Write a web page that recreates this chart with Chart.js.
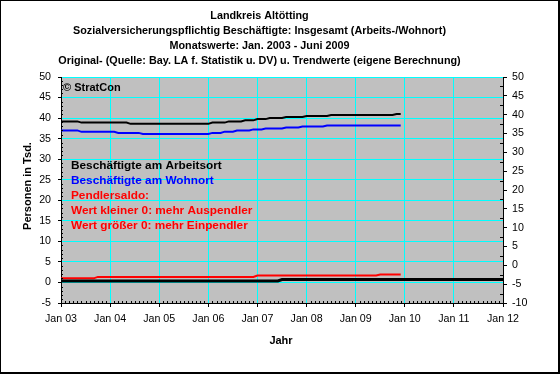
<!DOCTYPE html>
<html>
<head>
<meta charset="utf-8">
<script src="https://cdn.jsdelivr.net/npm/chart.js@4.4.0/dist/chart.umd.min.js"></script>
<style>
  html, body { margin: 0; padding: 0; background: #fff; }
  canvas { display: block; }
</style>
</head>
<body>
<canvas id="chart" width="560" height="374"></canvas>
<script>
// monthly values in Tsd., Jan 2003 .. Dec 2009 (one row per year)
const arbeitsort = [
  39.2, 39.2, 39.2, 39.2, 39.2, 38.9, 38.9, 38.9, 38.9, 38.9, 38.9, 38.9,
  38.9, 38.9, 38.9, 38.9, 38.9, 38.6, 38.6, 38.6, 38.6, 38.6, 38.6, 38.6,
  38.6, 38.6, 38.6, 38.6, 38.6, 38.6, 38.6, 38.6, 38.6, 38.6, 38.6, 38.6,
  38.6, 38.9, 38.9, 38.9, 38.9, 39.2, 39.2, 39.2, 39.2, 39.45, 39.45, 39.45,
  39.75, 39.75, 39.75, 40.0, 40.0, 40.0, 40.0, 40.25, 40.25, 40.25, 40.25, 40.25,
  40.5, 40.5, 40.5, 40.5, 40.5, 40.5, 40.75, 40.75, 40.75, 40.75, 40.75, 40.75,
  40.75, 40.75, 40.75, 40.75, 40.75, 40.75, 40.75, 40.75, 40.75, 40.75, 41.0, 41.0
];
const wohnort = [
  37.0, 37.0, 37.0, 37.0, 37.0, 36.65, 36.65, 36.65, 36.65, 36.65, 36.65, 36.65,
  36.65, 36.65, 36.4, 36.4, 36.4, 36.4, 36.4, 36.4, 36.15, 36.15, 36.15, 36.15,
  36.15, 36.15, 36.15, 36.15, 36.15, 36.15, 36.15, 36.15, 36.15, 36.15, 36.15, 36.15,
  36.15, 36.4, 36.4, 36.4, 36.7, 36.7, 36.7, 37.0, 37.0, 37.0, 37.0, 37.25,
  37.25, 37.25, 37.45, 37.45, 37.45, 37.45, 37.45, 37.7, 37.7, 37.7, 37.7, 37.95,
  37.95, 37.95, 37.95, 37.95, 37.95, 38.2, 38.2, 38.2, 38.2, 38.2, 38.2, 38.2,
  38.2, 38.2, 38.2, 38.2, 38.2, 38.2, 38.2, 38.2, 38.2, 38.2, 38.2, 38.2
];
const pendlersaldo = [
  1.0, 1.0, 1.0, 1.0, 1.0, 1.0, 1.0, 1.0, 1.0, 1.35, 1.35, 1.35,
  1.35, 1.35, 1.35, 1.35, 1.35, 1.35, 1.35, 1.35, 1.35, 1.35, 1.35, 1.35,
  1.35, 1.35, 1.35, 1.35, 1.35, 1.35, 1.35, 1.35, 1.35, 1.35, 1.35, 1.35,
  1.35, 1.35, 1.35, 1.35, 1.35, 1.35, 1.35, 1.35, 1.35, 1.35, 1.35, 1.35,
  1.7, 1.7, 1.7, 1.7, 1.7, 1.7, 1.7, 1.7, 1.7, 1.7, 1.7, 1.7,
  1.7, 1.7, 1.7, 1.7, 1.7, 1.7, 1.7, 1.7, 1.7, 1.7, 1.7, 1.7,
  1.7, 1.7, 1.7, 1.7, 1.7, 1.7, 1.95, 1.95, 1.95, 1.95, 1.95, 1.95
];
// trend, Jan 2003 .. Jan 2012
const saldoTrend = [
  0.37, 0.37, 0.37, 0.37, 0.37, 0.37, 0.37, 0.37, 0.37, 0.37, 0.37, 0.37,
  0.37, 0.37, 0.37, 0.37, 0.37, 0.37, 0.37, 0.37, 0.37, 0.37, 0.37, 0.37,
  0.37, 0.37, 0.37, 0.37, 0.37, 0.37, 0.37, 0.37, 0.37, 0.37, 0.37, 0.37,
  0.37, 0.37, 0.37, 0.37, 0.37, 0.37, 0.37, 0.37, 0.37, 0.37, 0.37, 0.37,
  0.37, 0.37, 0.37, 0.37, 0.37, 0.37, 0.7, 0.7, 0.7, 0.7, 0.7, 0.7,
  0.7, 0.7, 0.7, 0.7, 0.7, 0.7, 0.7, 0.7, 0.7, 0.7, 0.7, 0.7,
  0.7, 0.7, 0.7, 0.7, 0.7, 0.7, 0.7, 0.7, 0.7, 0.7, 0.7, 0.7,
  0.7, 0.7, 0.7, 0.7, 0.7, 0.7, 0.7, 0.7, 0.7, 0.7, 0.7, 0.7,
  0.7, 0.7, 0.7, 0.7, 0.7, 0.7, 0.7, 0.7, 0.7, 0.7, 0.7, 0.7,
  0.7
];
const tickLabels = ["Jan 03", "Jan 04", "Jan 05", "Jan 06", "Jan 07", "Jan 08", "Jan 09", "Jan 10", "Jan 11", "Jan 12"];

const titleLines = [
  "Landkreis Altötting",
  "Sozialversicherungspflichtig Beschäftigte: Insgesamt (Arbeits-/Wohnort)",
  "Monatswerte: Jan. 2003 - Juni 2009",
  "Original- (Quelle: Bay. LA f. Statistik u. DV) u. Trendwerte (eigene Berechnung)"
];
const noteLines = [
  ["Beschäftigte am Arbeitsort", "#000000"],
  ["Beschäftigte am Wohnort", "#0000ff"],
  ["Pendlersaldo:", "#ff0000"],
  ["Wert kleiner 0: mehr Auspendler", "#ff0000"],
  ["Wert größer 0: mehr Einpendler", "#ff0000"]
];

const FONT = "'Liberation Sans', Arial, sans-serif";
const toPoints = (arr) => arr.map((v, i) => ({ x: i, y: v }));

// grey plot area
const plotBg = {
  id: "plotBg",
  beforeDraw(chart) {
    const { ctx, chartArea: a } = chart;
    ctx.save();
    ctx.fillStyle = "#c0c0c0";
    ctx.fillRect(a.left, a.top, a.right - a.left, a.bottom - a.top);
    ctx.restore();
  },
};

// minor ticks, titles, notes and frame
const decorations = {
  id: "decorations",
  afterDraw(chart) {
    const { ctx, chartArea: a, scales } = chart;
    ctx.save();
    ctx.strokeStyle = "#000";
    ctx.lineWidth = 1;
    ctx.beginPath();
    for (let m = 0; m <= 108; m++) {
      if (m % 12 === 0) continue;
      const x = Math.round(scales.x.getPixelForValue(m)) + 0.5;
      ctx.moveTo(x, a.bottom);
      ctx.lineTo(x, a.bottom - 2);
    }
    for (let v = -5; v <= 50; v++) {
      if (v % 5 === 0) continue;
      const y = Math.round(scales.y.getPixelForValue(v)) + 0.5;
      ctx.moveTo(a.left, y);
      ctx.lineTo(a.left + 2, y);
    }
    for (let v = -7.5; v <= 50; v += 5) {
      const y = Math.round(scales.y2.getPixelForValue(v)) + 0.5;
      ctx.moveTo(a.right, y);
      ctx.lineTo(a.right - 3, y);
    }
    ctx.stroke();

    ctx.fillStyle = "#000";
    ctx.textAlign = "center";
    ctx.textBaseline = "alphabetic";
    ctx.font = "bold 10.8px " + FONT;
    const baselines = [19.3, 34.4, 49.4, 64.4];
    titleLines.forEach((t, i) => ctx.fillText(t, 259.5, baselines[i]));

    ctx.font = "bold 11px " + FONT;
    ctx.fillText("Jahr", 281, 344);
    ctx.save();
    ctx.translate(30.5, 186);
    ctx.rotate(-Math.PI / 2);
    ctx.fillText("Personen in Tsd.", 0, 0);
    ctx.restore();

    ctx.textAlign = "left";
    ctx.font = "bold 11px " + FONT;
    ctx.fillText("© StratCon", 63, 91);

    ctx.font = "bold 11.8px " + FONT;
    noteLines.forEach(([t, c], i) => {
      ctx.fillStyle = c;
      ctx.fillText(t, 71, 168.5 + i * 15);
    });

    // outer frame
    ctx.fillStyle = "#000";
    ctx.fillRect(0, 0, 560, 1);
    ctx.fillRect(0, 0, 1, 374);
    ctx.fillRect(558, 0, 2, 374);
    ctx.fillRect(0, 372, 560, 2);
    ctx.restore();
  },
};

const tickFont = { family: FONT, size: 10.67 };

new Chart(document.getElementById("chart"), {
  type: "line",
  data: {
    datasets: [
      { label: "Arbeitsort", data: toPoints(arbeitsort), borderColor: "#000000", borderWidth: 2, order: 1 },
      { label: "Wohnort", data: toPoints(wohnort), borderColor: "#0000ff", borderWidth: 2, order: 2 },
      { label: "Pendlersaldo", data: toPoints(pendlersaldo), borderColor: "#ff0000", borderWidth: 2, order: 3 },
      { label: "Trend", data: toPoints(saldoTrend), borderColor: "#000000", borderWidth: 3, order: 0 },
    ],
  },
  options: {
    responsive: false,
    animation: false,
    devicePixelRatio: 1,
    layout: { padding: { top: 77, left: 0, right: 0, bottom: 0 } },
    elements: {
      point: { radius: 0 },
      line: { tension: 0, borderCapStyle: "butt" },
    },
    plugins: {
      legend: { display: false },
      tooltip: { enabled: false },
    },
    scales: {
      x: {
        type: "linear",
        min: 0,
        max: 108,
        ticks: {
          stepSize: 12,
          autoSkip: false,
          maxRotation: 0,
          color: "#000",
          font: tickFont,
          padding: 6,
          callback: (v) => tickLabels[v / 12],
        },
        grid: { color: "#00ffff", tickColor: "#000", tickLength: 4 },
        border: { color: "#000", width: 1 },
        afterFit: (s) => { s.height = 71; },
      },
      y: {
        position: "left",
        min: -5,
        max: 50,
        ticks: { stepSize: 5, color: "#000", font: tickFont, padding: 7 },
        grid: { color: "#00ffff", tickColor: "#000", tickLength: 3 },
        border: { color: "#000", width: 1 },
        afterFit: (s) => { s.width = 61; },
      },
      y2: {
        position: "right",
        min: -10,
        max: 50,
        ticks: { stepSize: 5, color: "#000", font: tickFont, padding: 5 },
        grid: { drawOnChartArea: false, tickColor: "#000", tickLength: 4 },
        border: { color: "#000", width: 1 },
        afterFit: (s) => { s.width = 57; },
      },
    },
  },
  plugins: [plotBg, decorations],
});
</script>
</body>
</html>
